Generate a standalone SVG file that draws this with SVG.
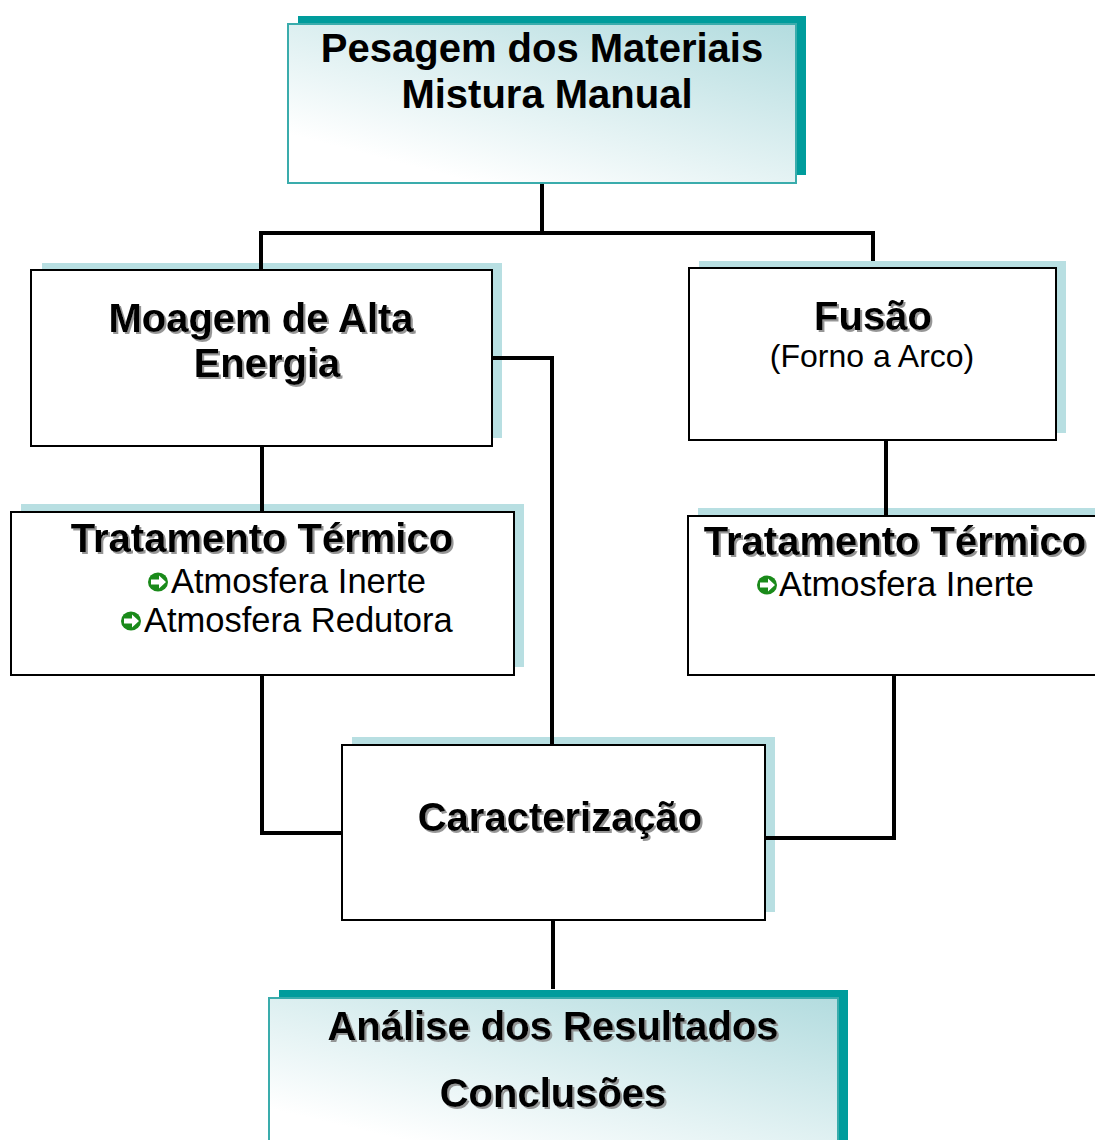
<svg xmlns="http://www.w3.org/2000/svg" width="1095" height="1140" viewBox="0 0 1095 1140">
<style>
.title{font-family:"Liberation Sans",Arial,sans-serif;font-weight:bold;font-size:40px;fill:#000;text-anchor:middle}
.sh{filter:url(#ts)}
.sub{font-family:"Liberation Sans",Arial,sans-serif;font-size:34.5px;fill:#000}
.box{fill:#fff;stroke:#000;stroke-width:2}
.shadow{fill:#b8dfe2}
.tshadow{fill:#009c9c}
.tbox{fill:url(#grad);stroke:#3aacac;stroke-width:2}
.conn{fill:none;stroke:#000;stroke-width:4}
.bul{fill:#1a8a1a}
</style>
<defs>
<linearGradient id="grad" x1="1" y1="0" x2="0.25" y2="0.9">
<stop offset="0" stop-color="#b3dcdf"/>
<stop offset="1" stop-color="#ffffff"/>
</linearGradient>
<filter id="ts" x="-5%" y="-20%" width="115%" height="150%">
<feDropShadow dx="2" dy="2" stdDeviation="0.6" flood-color="#8a8a8a" flood-opacity="0.9"/>
</filter>
<g id="bullet">
<ellipse cx="0" cy="0" rx="10" ry="9.5" class="bul"/>
<path d="M-7,-2.5 H1 V-6.5 L8,0 L1,6.5 V2.5 H-7 Z" fill="#fff"/>
</g>
</defs>
<g id="pesagem">
<rect class="tshadow" x="298" y="16" width="508" height="159"/>
<rect class="tbox" x="288" y="24" width="508" height="159"/>
<text class="title" x="542" y="62">Pesagem dos Materiais</text>
<text class="title" x="547" y="108">Mistura Manual</text>
</g>
<g id="moagem">
<rect class="shadow" x="42" y="263" width="460" height="175"/>
<rect class="box" x="31" y="270" width="461" height="176"/>
<text class="title sh" x="261" y="332">Moagem de Alta</text>
<text class="title sh" x="267" y="377">Energia</text>
</g>
<g id="fusao">
<rect class="shadow" x="699" y="261" width="367" height="172"/>
<rect class="box" x="689" y="268" width="367" height="172"/>
<text class="title sh" x="873" y="330">Fusão</text>
<text class="sub" x="872" y="367" text-anchor="middle" style="font-size:32px">(Forno a Arco)</text>
</g>
<g id="tratamento-left">
<rect class="shadow" x="21" y="504" width="503" height="163"/>
<rect class="box" x="11" y="512" width="503" height="163"/>
<text class="title sh" x="262" y="552">Tratamento Térmico</text>
<use href="#bullet" x="158" y="582"/>
<text class="sub" x="171" y="593">Atmosfera Inerte</text>
<use href="#bullet" x="131" y="621"/>
<text class="sub" x="144" y="632">Atmosfera Redutora</text>
</g>
<g id="tratamento-right">
<rect class="shadow" x="698" y="508" width="420" height="159"/>
<rect class="box" x="688" y="516" width="420" height="159"/>
<text class="title sh" x="895" y="555">Tratamento Térmico</text>
<use href="#bullet" x="767" y="585"/>
<text class="sub" x="779" y="596">Atmosfera Inerte</text>
</g>
<g id="caracterizacao">
<rect class="shadow" x="352" y="737" width="423" height="175"/>
<rect class="box" x="342" y="745" width="423" height="175"/>
<text class="title sh" x="560" y="831">Caracterização</text>
</g>
<g id="analise">
<rect class="tshadow" x="279" y="990" width="569" height="160"/>
<rect class="tbox" x="269" y="998" width="569" height="160"/>
<text class="title sh" x="553" y="1040">Análise dos Resultados</text>
<text class="title sh" x="553" y="1107">Conclusões</text>
</g>
<g id="connectors">
<path class="conn" d="M542,184 V233 M259,233 H875 M261,233 V269 M873,233 V261"/>
<path class="conn" d="M493,358 H552 V744"/>
<path class="conn" d="M262,447 V511"/>
<path class="conn" d="M262,676 V833 H341"/>
<path class="conn" d="M886,441 V515"/>
<path class="conn" d="M894,676 V838 H766"/>
<path class="conn" d="M553,921 V989"/>
</g>
</svg>
